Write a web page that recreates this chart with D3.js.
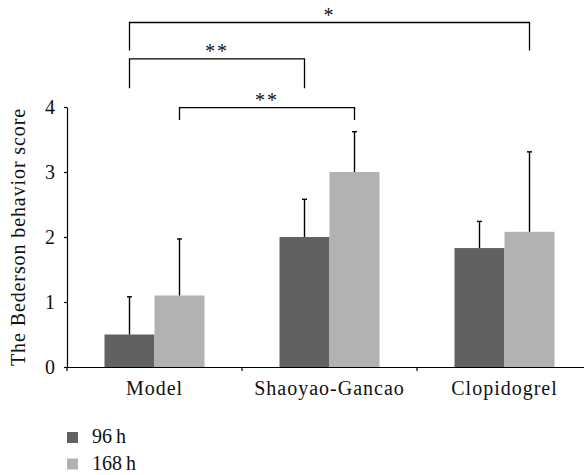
<!DOCTYPE html>
<html>
<head>
<meta charset="utf-8">
<script src="https://cdn.jsdelivr.net/npm/d3@7"></script>
<style>
  html, body { margin: 0; padding: 0; background: #fff; }
  svg { display: block; font-family: "Liberation Serif", "Times New Roman", serif; }
  .axis path, .axis line { stroke: #000; stroke-width: 1.2; }
  .axis text { fill: #111; font-size: 20px; font-family: "Liberation Serif", serif; }
  #x-axis text { letter-spacing: 1px; }
</style>
</head>
<body>
<div id="chart-container"></div>
<script>
// Chart data.
const categories = ["Model", "Shaoyao-Gancao", "Clopidogrel"];
const seriesNames = ["96\u2009h", "168\u2009h"];
const means96 = [0.5, 2.0, 1.83];
const means168 = [1.1, 3.0, 2.08];
const errors96 = [0.58, 0.58, 0.41];
const errors168 = [0.87, 0.62, 1.23];
const yTicks = [0, 1, 2, 3, 4];
const yLabel = "The Bederson behavior score";

// Significance brackets: [category, series] endpoints, bar level and leg bottom in score units.
const bracketFrom = [[0, 0], [0, 0], [0, 1]];
const bracketTo = [[2, 1], [1, 0], [1, 1]];
const bracketLevel = [5.3, 4.74, 3.99];
const bracketLegEnd = [4.87, 4.29, 3.8];
const bracketLabels = ["*", "**", "**"];

const colors = ["#616161", "#b2b2b2"];

let margin, fWidth, fHeight, chartCanvas, xScale, xInner, yScale;

// Sizing variables.
margin = { top: 107, right: 0, bottom: 108, left: 67 },
  fWidth = 584,
  fHeight = 475;

const data = categories.map((c, i) => ({
  cat: c,
  values: [
    { s: 0, mean: means96[i], err: errors96[i] },
    { s: 1, mean: means168[i], err: errors168[i] }
  ]
}));

chartCanvas = d3.select("#chart-container").append("svg")
  .attr("width", fWidth)
  .attr("height", fHeight);

// Scales. The plot area runs past the right edge and is cropped.
xScale = d3.scaleBand()
  .domain(categories)
  .range([margin.left, margin.left + 3 * 175])
  .paddingInner(0)
  .paddingOuter(0);

xInner = d3.scaleBand()
  .domain([0, 1])
  .range([37.5, 137.5]);

yScale = d3.scaleLinear()
  .domain([0, 4])
  .range([fHeight - margin.bottom, margin.top]);

const barCenter = (ci, si) => xScale(categories[ci]) + xInner(si) + xInner.bandwidth() / 2;

// Bars.
const groups = chartCanvas.append("g").attr("id", "bars")
  .selectAll("g")
  .data(data)
  .enter()
  .append("g")
    .attr("transform", d => `translate(${ xScale(d.cat) } 0)`);

groups.selectAll("rect")
  .data(d => d.values)
  .enter()
  .append("rect")
    .attr("x", d => xInner(d.s))
    .attr("y", d => yScale(d.mean))
    .attr("width", xInner.bandwidth())
    .attr("height", d => yScale(0) - yScale(d.mean))
    .attr("fill", d => colors[d.s]);

// Error bars (upper only).
const errs = groups.selectAll(".err")
  .data(d => d.values)
  .enter()
  .append("g")
    .classed("err", true)
    .attr("stroke", "#000")
    .attr("stroke-width", 1.4);

errs.append("line")
  .attr("x1", d => xInner(d.s) + xInner.bandwidth() / 2)
  .attr("x2", d => xInner(d.s) + xInner.bandwidth() / 2)
  .attr("y1", d => yScale(d.mean))
  .attr("y2", d => yScale(d.mean + d.err));

errs.append("line")
  .attr("x1", d => xInner(d.s) + xInner.bandwidth() / 2 - 2.5)
  .attr("x2", d => xInner(d.s) + xInner.bandwidth() / 2 + 2.5)
  .attr("y1", d => yScale(d.mean + d.err))
  .attr("y2", d => yScale(d.mean + d.err));

// Y axis.
const yAxis = chartCanvas.append("g")
  .attr("class", "axis")
  .attr("id", "y-axis")
  .attr("transform", `translate(${ margin.left } 0)`)
  .call(d3.axisLeft(yScale).tickValues(yTicks).tickSize(3).tickSizeOuter(0).tickPadding(9).tickFormat(d3.format("d")));

// X axis: labels at band centers.
const xAxis = chartCanvas.append("g")
  .attr("class", "axis")
  .attr("id", "x-axis")
  .attr("transform", `translate(0 ${ yScale(0) })`)
  .call(d3.axisBottom(xScale).tickSize(0).tickSizeOuter(0).tickPadding(14));

xAxis.selectAll(".tick line").remove();

// Boundary ticks between categories.
xAxis.selectAll(".bound")
  .data(categories)
  .enter()
  .append("line")
    .classed("bound", true)
    .attr("x1", d => xScale(d))
    .attr("x2", d => xScale(d))
    .attr("y1", 0)
    .attr("y2", 4)
    .attr("stroke", "#000")
    .attr("stroke-width", 1.2);

// Y axis title.
chartCanvas.append("text")
  .attr("transform", `translate(25 ${ (yScale(0) + yScale(4)) / 2 }) rotate(-90)`)
  .attr("text-anchor", "middle")
  .attr("font-size", 20)
  .attr("letter-spacing", 0.9)
  .attr("fill", "#111")
  .text(yLabel);

// Significance brackets.
const brackets = chartCanvas.append("g").attr("id", "brackets")
  .selectAll("g")
  .data(bracketLabels.map((l, i) => ({
    label: l,
    x1: barCenter(bracketFrom[i][0], bracketFrom[i][1]),
    x2: barCenter(bracketTo[i][0], bracketTo[i][1]),
    level: bracketLevel[i],
    leg: bracketLegEnd[i]
  })))
  .enter()
  .append("g");

brackets.append("path")
  .attr("d", d => `M${ d.x1 },${ yScale(d.leg) }V${ yScale(d.level) }H${ d.x2 }V${ yScale(d.leg) }`)
  .attr("fill", "none")
  .attr("stroke", "#000")
  .attr("stroke-width", 1.3);

brackets.append("text")
  .attr("x", d => (d.x1 + d.x2) / 2)
  .attr("y", d => yScale(d.level) - 1)
  .attr("text-anchor", "middle")
  .attr("font-size", 20)
  .attr("letter-spacing", 2)
  .attr("fill", "#111")
  .text(d => d.label);

// Legend.
const legend = chartCanvas.append("g").attr("id", "legend")
  .selectAll("g")
  .data(seriesNames)
  .enter()
  .append("g")
    .attr("transform", (d, i) => `translate(67 ${ 432 + i * 26.5 })`);

legend.append("rect")
  .attr("width", 11)
  .attr("height", 11)
  .attr("fill", (d, i) => colors[i]);

legend.append("text")
  .attr("x", 25)
  .attr("y", 11)
  .attr("font-size", 20)
  .attr("fill", "#111")
  .text(d => d);
</script>
</body>
</html>
